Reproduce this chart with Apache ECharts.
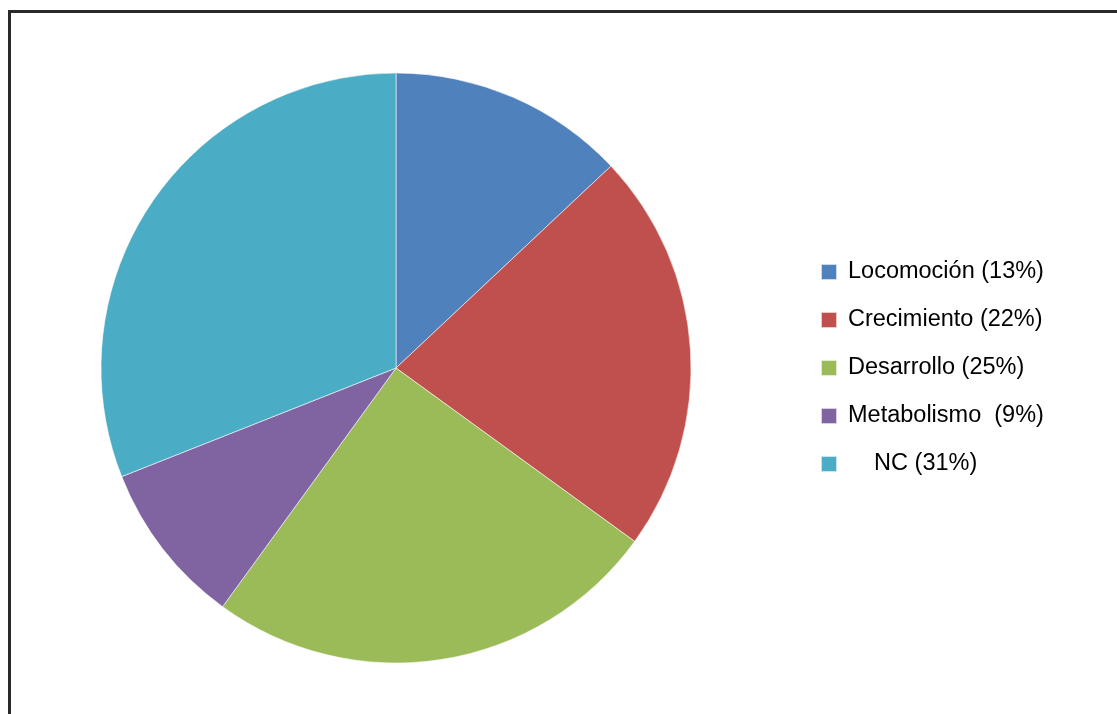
<!DOCTYPE html>
<html>
<head>
<meta charset="utf-8">
<script src="https://cdn.jsdelivr.net/npm/echarts@6/dist/echarts.min.js"></script>
<style>
  html, body { margin: 0; padding: 0; background: #fff; }
  #frame {
    position: absolute; left: 8px; top: 10px; width: 1200px; height: 800px;
    border-left: 3px solid #2a2a2a; border-top: 3px solid #2a2a2a; box-sizing: border-box;
  }
  #chart { position: absolute; left: 0; top: 0; width: 1117px; height: 714px; }
</style>
</head>
<body>
<div id="frame"></div>
<div id="chart"></div>
<script>
// Share of each category (percent)
const categories = ['Locomoción', 'Crecimiento', 'Desarrollo', 'Metabolismo', 'NC'];
const values = [13, 22, 25, 9, 31];
const colors = ['#4F81BD', '#C0504D', '#9BBB59', '#8064A2', '#4BACC6'];
// Spacing placed before / after the name in the legend entries
const legendPrefix = ['', '', '', '', '    '];
const legendSeparator = [' ', ' ', ' ', '  ', ' '];

const chart = echarts.init(document.getElementById('chart'), null, { renderer: 'canvas' });

chart.setOption({
  backgroundColor: 'transparent',
  animation: false,
  color: colors,
  legend: {
    orient: 'vertical',
    left: 820,
    top: 260,
    padding: 0,
    itemWidth: 16,
    itemHeight: 16,
    itemGap: 24,
    icon: 'rect',
    data: categories,
    formatter: function (name) {
      const i = categories.indexOf(name);
      return legendPrefix[i] + name + legendSeparator[i] + '(' + values[i] + '%)';
    },
    textStyle: {
      fontFamily: '"Liberation Sans", Arial, sans-serif',
      fontSize: 23.5,
      lineHeight: 24,
      color: '#000',
      padding: [0, 0, 0, 6]
    }
  },
  series: [{
    type: 'pie',
    center: [396, 368],
    radius: [0, 295],
    startAngle: 90,
    clockwise: true,
    label: { show: false },
    labelLine: { show: false },
    emphasis: { disabled: true },
    itemStyle: { borderColor: 'rgba(255,255,255,0.7)', borderWidth: 0.8 },
    data: categories.map((c, i) => ({ name: c, value: values[i] }))
  }]
});
</script>
</body>
</html>
